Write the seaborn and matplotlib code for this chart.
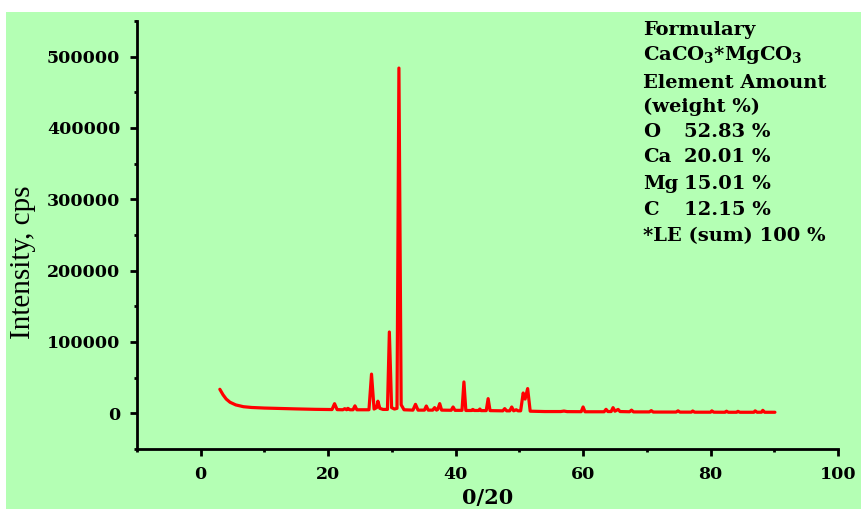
import matplotlib
matplotlib.use("Agg")
import matplotlib.pyplot as plt
from matplotlib.ticker import MultipleLocator
from matplotlib.patches import Rectangle
import seaborn as sns
import pandas as pd

# ── data ─────────────────────────────────────────────────────────────────────
two_theta = [
    3.0, 3.5, 4.0, 4.6, 5.5, 6.7, 8.0, 10.0, 12.5, 15.0, 18.0, 20.6,
    21.0, 21.4, 22.3, 22.6, 22.9, 23.1, 23.4, 23.9, 24.2, 24.5,
    26.4, 26.8, 27.2, 27.6, 27.8, 28.1, 28.6, 29.3, 29.6, 29.95,
    30.4, 30.8, 31.1, 31.45, 31.9, 33.3, 33.7, 34.1, 35.1, 35.4, 35.7,
    36.4, 36.7, 37.0, 37.2, 37.5, 37.8, 39.3, 39.6, 39.9, 41.0, 41.3, 41.6,
    42.5, 42.7, 42.9, 43.6, 43.8, 44.0, 44.8, 45.1, 45.4, 47.4, 47.7, 48.0,
    48.5, 48.8, 49.1, 49.5, 49.8, 50.2, 50.6, 50.9, 51.3, 51.7,
    54.0, 56.5, 57.0, 57.5, 59.7, 60.0, 60.3, 63.3, 63.6, 63.9, 64.4, 64.7,
    65.0, 65.5, 65.8, 67.3, 67.6, 67.9, 70.4, 70.7, 71.0, 74.6, 74.9, 75.2,
    77.0, 77.2, 77.5, 80.0, 80.2, 80.5, 82.3, 82.5, 82.8, 84.1, 84.3, 84.6,
    86.8, 87.0, 87.3, 88.0, 88.2, 88.5, 90.1,
]
intensity = [
    33700, 26000, 20000, 15500, 11800, 9300, 8200, 7400, 6800, 6200, 5600, 5300,
    13500, 5200, 5000, 6500, 5000, 7000, 5000, 5000, 10500, 5000,
    5000, 55000, 6000, 8000, 17000, 7000, 5500, 5500, 114000, 8000,
    6000, 7000, 484000, 12000, 5000, 4500, 12600, 4500, 4500, 10300, 4500,
    4500, 8000, 4500, 5500, 13600, 4500, 4300, 8900, 4200, 4200, 44000, 4000,
    4000, 5500, 4000, 4000, 6000, 3800, 3800, 20600, 3800, 3500, 6600, 3500,
    3500, 8900, 3500, 5000, 3500, 3500, 28500, 20000, 34700, 3000,
    2500, 2500, 3200, 2400, 2300, 8900, 2200, 2200, 5600, 2500, 2500, 8000,
    3000, 5500, 2500, 2200, 4500, 2000, 2000, 3800, 1800, 1800, 3500, 1700,
    1700, 3300, 1600, 1600, 3500, 1600, 1500, 3000, 1500, 1500, 2800, 1500,
    1500, 3500, 1500, 1600, 4200, 1500, 1500,
]

formula_lines = ["Formulary", r"$\mathbf{CaCO_3{*}MgCO_3}$",
                 "Element Amount", "(weight %)"]
elements = ["O", "Ca", "Mg", "C"]
weight_pct = ["52.83 %", "20.01 %", "15.01 %", "12.15 %"]
total_line = "*LE (sum) 100 %"

x_ticks = [0, 20, 40, 60, 80, 100]
y_ticks = [0, 100000, 200000, 300000, 400000, 500000]

df = pd.DataFrame({"two_theta": two_theta, "intensity": intensity})

# ── style ────────────────────────────────────────────────────────────────────
GREEN = "#B4FFB4"
sns.set_theme(style="ticks")
plt.rcParams["font.family"] = ["DejaVu Serif"]
plt.rcParams["font.weight"] = "bold"
plt.rcParams["mathtext.fontset"] = "dejavuserif"
plt.rcParams["text.color"] = "black"
plt.rcParams["axes.labelcolor"] = "black"

W, H = 861, 509
fig = plt.figure(figsize=(W / 100, H / 100), dpi=100, facecolor="white")
fig.add_artist(Rectangle((6 / W, 0), 1, 1 - 12 / H, transform=fig.transFigure,
                         facecolor=GREEN, edgecolor="none", zorder=-10))
ax = fig.add_axes([137 / W, 1 - 449 / H, (838 - 137) / W, (449 - 21) / H])
ax.set_facecolor(GREEN)

sns.lineplot(data=df, x="two_theta", y="intensity", ax=ax, color="#FF0000",
             lw=2.3, estimator=None, sort=False)

ax.set_xlim(-10, 100)
ax.set_ylim(-50000, 550000)
ax.set_xticks(x_ticks)
ax.set_yticks(y_ticks)
ax.xaxis.set_minor_locator(MultipleLocator(10))
ax.yaxis.set_minor_locator(MultipleLocator(50000))
ax.set_xticklabels([str(v) for v in x_ticks], fontsize=12.5, fontweight="bold")
ax.set_yticklabels([str(v) for v in y_ticks], fontsize=12.5, fontweight="bold")

for side in ["top", "right"]:
    ax.spines[side].set_visible(False)
for side in ["left", "bottom"]:
    ax.spines[side].set_linewidth(2.0)
    ax.spines[side].set_color("black")
ax.tick_params(which="major", direction="out", length=5, width=2, pad=7,
               colors="black")
ax.tick_params(which="minor", direction="out", length=2.5, width=2,
               colors="black")

ax.set_xlabel("0/20", fontsize=15, fontweight="bold", va="top")
ax.xaxis.set_label_coords(0.5, -0.09)
ax.set_ylabel("Intensity, cps", fontsize=21, fontweight="normal",
              family="Liberation Serif", va="center")
ax.yaxis.set_label_coords(-0.163, 0.437)

# ── composition box ──────────────────────────────────────────────────────────
fs = 14
x0, x1 = 643 / W, 684 / W
rows_y = [30, 55, 83, 107]
for txt, py in zip(formula_lines, rows_y):
    fig.text(x0, 1 - py / H, txt, fontsize=fs, fontweight="bold", va="center")
for el, pct, py in zip(elements, weight_pct, [132, 157, 184, 210]):
    fig.text(x0, 1 - py / H, el, fontsize=fs, fontweight="bold", va="center")
    fig.text(x1, 1 - py / H, pct, fontsize=fs, fontweight="bold", va="center")
fig.text(x0, 1 - 236 / H, total_line, fontsize=fs, fontweight="bold",
         va="center")

fig.savefig("out.png", dpi=100, facecolor=fig.get_facecolor())
